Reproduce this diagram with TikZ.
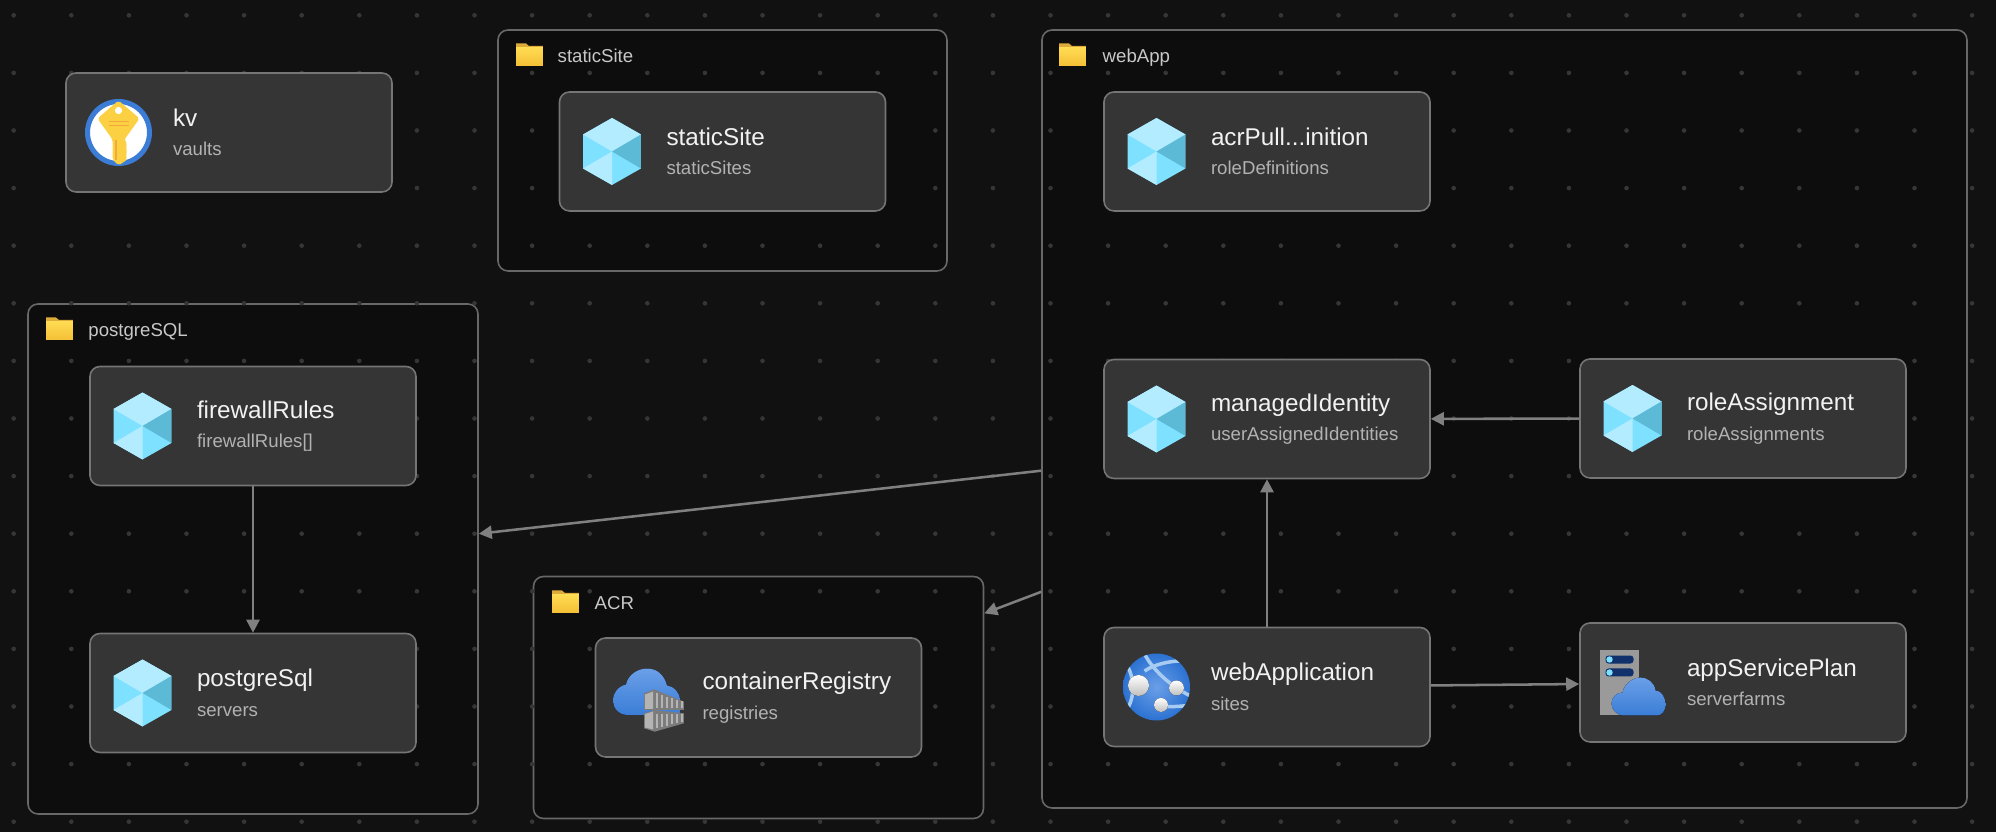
\documentclass[tikz,border=0pt]{standalone}
\usepackage{fontspec}
\setmainfont{Liberation Sans}
\usetikzlibrary{arrows.meta, shapes.geometric}

\definecolor{bgdark}{HTML}{111111}
\definecolor{groupdark}{HTML}{0D0D0D}
\definecolor{griddot}{HTML}{363636}
\definecolor{blockfill}{HTML}{353535}
\definecolor{edgegray}{HTML}{757575}
\definecolor{groupedge}{HTML}{686868}
\definecolor{linegray}{HTML}{808080}
\definecolor{subgray}{HTML}{B2B2B2}
\definecolor{groupgray}{HTML}{C8C8C8}
\definecolor{azlight}{HTML}{B3ECFF}
\definecolor{azmid}{HTML}{7DE1FF}
\definecolor{azdark}{HTML}{5DBAD6}
\definecolor{azblue}{HTML}{3B7DD6}
\definecolor{azdeep}{HTML}{2C72D2}
\definecolor{azsky}{HTML}{6A9FE8}
\definecolor{azarc}{HTML}{A8CBF2}
\definecolor{keygold}{HTML}{FBD043}
\definecolor{keyorange}{HTML}{F2A93B}
\definecolor{foldertop}{HTML}{FFDB52}
\definecolor{folderlow}{HTML}{F4BF35}
\definecolor{foldertab}{HTML}{DDAB3A}
\definecolor{rackgray}{HTML}{9A9A9A}
\definecolor{crategray}{HTML}{7C7C7C}
\definecolor{slatgray}{HTML}{B4B4B4}
\definecolor{slotnavy}{HTML}{10316B}

% title and type of a resource, set right of its icon
\newcommand{\restext}[2]{\hspace*{1.07cm}{\fontsize{6.9pt}{8.6pt}\selectfont\color{white!95!black}#1}\\[-3.6pt]\hspace*{1.07cm}{\fontsize{5.3pt}{8.6pt}\selectfont\color{subgray}#2}}

\tikzset{
    cubeicon/.pic={
        \begin{scope}[scale=0.01]
            \fill[azmid] (0,33.5) -- (29,17) -- (29,-17) -- (0,-33.5) -- (-29,-17) -- (-29,17) -- cycle;
            \fill[azlight] (0,33.5) -- (29,17) -- (0,0) -- (-29,17) -- cycle;
            \fill[azdark] (29,17) -- (0,0) -- (29,-17) -- cycle;
            \fill[azlight] (-29,-17) -- (0,0) -- (0,-33.5) -- cycle;
        \end{scope}
    },
    keyicon/.pic={
        \begin{scope}[scale=0.01]
            \fill[white] (0,0) circle (29);
            \draw[azblue, line width=0.05cm] (0,0) circle (31);
            \fill[keygold, rounded corners=0.02cm] (0,32) -- (21,14) -- (6,-7) -- (6,-8) -- (9,-11) -- (7,-15) -- (9,-19) -- (7,-23) -- (9,-27) -- (0,-33) -- (-6,-27) -- (-6,-7) -- (-21,14) -- cycle;
            \fill[white] (0,22) circle (3.6);
            \fill[keyorange] (-10,10) rectangle (10,11.5);
            \fill[keyorange] (-10,6) rectangle (10,7.5);
            \fill[keyorange] (-3.5,-8) rectangle (-2,-28);
        \end{scope}
    },
    webicon/.pic={
        \begin{scope}[scale=0.01]
            \shade[inner color=azsky, outer color=azdeep] (0,0) circle (33.5);
            \begin{scope}
                \clip (0,0) circle (33.5);
                \draw[azarc, line width=0.035cm] (-12,33) .. controls (-4,18) and (12,2) .. (34,-9);
                \draw[azarc, line width=0.035cm] (-12,16) .. controls (0,24) and (18,27) .. (34,26);
                \draw[azarc, line width=0.035cm] (-29,21) .. controls (-22,8) and (-22,-8) .. (-28,-20);
                \draw[azarc, line width=0.035cm] (0,-19) .. controls (10,-20) and (22,-20) .. (34,-18);
            \end{scope}
            \fill[top color=white, bottom color=white!75!black] (-18,1.5) circle (10.5);
            \fill[top color=white, bottom color=white!75!black] (20,-1) circle (7.5);
            \fill[top color=white, bottom color=white!75!black] (4.5,-18) circle (7);
        \end{scope}
    },
    registryicon/.pic={
        \begin{scope}[scale=0.01]
            \fill[top color=azsky, bottom color=azblue] (-20,-17.5) .. controls (-30,-17.5) and (-35,-10) .. (-35,-3) .. controls (-35,5) and (-30,11) .. (-22,13) .. controls (-20,23) and (-10,29) .. (-1,29) .. controls (9,29) and (16,23) .. (19,12) .. controls (26,11) and (31,6) .. (32,-2) -- (32,-18) -- cycle;
            \fill[crategray] (-4,4.2) -- (6,8.2) -- (36,-4.2) -- (36,-12.5) -- (-4,-12.5) -- cycle;
            \fill[crategray] (-4,-15.8) -- (6.7,-12.5) -- (36,-15.8) -- (36,-25.8) -- (6.7,-34.2) -- (-4,-30.8) -- cycle;
            \fill[slatgray] (-3,3) -- (5,6) -- (5,-11.5) -- (-3,-11.5) -- cycle;
            \fill[slatgray] (-3,-16.5) -- (5,-14) -- (5,-32) -- (-3,-30) -- cycle;
            \foreach \slatx/\slattop/\slatlow in {9/4/-31,14/2/-30,19/0/-28.5,24/-1/-27,29/-3/-26,34/-4/-25} {
                \draw[slatgray, line width=0.02cm] (\slatx,\slattop) -- (\slatx,-11);
                \draw[slatgray, line width=0.02cm] (\slatx,-16.5) -- (\slatx,\slatlow);
            }
        \end{scope}
    },
    planicon/.pic={
        \begin{scope}[scale=0.01]
            \fill[rackgray] (-33,33) rectangle (6,-33);
            \fill[slotnavy, rounded corners=0.03cm] (-27,27) rectangle (1,19);
            \fill[slotnavy, rounded corners=0.03cm] (-27,14) rectangle (1,6);
            \fill[azmid] (-23,23) circle (3.2);
            \fill[azmid] (-23,10) circle (3.2);
            \fill[top color=azsky, bottom color=azblue] (-8,-33) .. controls (-16,-33) and (-21,-27) .. (-21,-21) .. controls (-21,-15) and (-16,-10) .. (-10,-10) .. controls (-8,0) and (2,5) .. (8,5) .. controls (15,5) and (22,0) .. (23,-8) .. controls (29,-8) and (33,-15) .. (33,-22) .. controls (33,-29) and (29,-33) .. (24,-33) -- cycle;
        \end{scope}
    },
    foldericon/.pic={
        \begin{scope}[scale=0.01]
            \fill[foldertab] (0,0) -- (0,11.5) -- (10,11.5) -- (13,9) -- (27,9) -- (27,0) -- cycle;
            \fill[top color=foldertop, bottom color=folderlow] (0,-11) rectangle (27,7);
        \end{scope}
    }
}

\begin{document}
\begin{tikzpicture}[
        >={Triangle[length=0.13cm, width=0.13cm]},
        block/.style={rectangle, draw=edgegray, fill=blockfill, line width=0.45pt, rounded corners=0.1cm, minimum width=3.26cm, minimum height=1.19cm, text width=3.26cm, inner sep=0pt, align=left},
        group/.style={rectangle, draw=groupedge, line width=0.45pt, rounded corners=0.1cm, fill=groupdark, inner sep=0pt},
        grouplabel/.style={anchor=base west, inner sep=0pt, text=groupgray, font=\fontsize{5.3pt}{6pt}\selectfont},
        griddots/.style={griddot},
        line/.style={draw=linegray, ->, line width=0.72pt}
    ]

        \useasboundingbox (0,0) rectangle (19.96,-8.32);
        \fill[bgdark] (0,0) rectangle (19.96,-8.32);

        % ================= GROUPS =================
        \node[group, minimum width=4.50cm, minimum height=5.10cm] (postgreSQLgroup) at (2.53,-5.59) {};
        \node[group, minimum width=4.49cm, minimum height=2.41cm] (staticSitegroup) at (7.225,-1.505) {};
        \node[group, minimum width=9.25cm, minimum height=7.78cm] (webAppgroup) at (15.045,-4.19) {};
        \node[group, minimum width=4.50cm, minimum height=2.42cm] (ACRgroup) at (7.585,-6.975) {};

        % dots of the canvas run under the boxes
        \foreach \row in {0,...,14} {
            \foreach \col in {0,...,34} {
                \fill[griddots] ({0.137+0.576*\col},{-0.153-0.576*\row}) circle (0.023);
            }
        }

        \node[grouplabel] (postgreSQLname) at (0.877,-3.37) {postgreSQL};
        \node[grouplabel] (staticSitename) at (5.57,-0.63) {staticSite};
        \node[grouplabel] (webAppname) at (11.02,-0.63) {webApp};
        \node[grouplabel] (ACRname) at (5.94,-6.10) {ACR};

        \pic at (0.46,-3.29) {foldericon};
        \pic at (5.16,-0.55) {foldericon};
        \pic at (10.59,-0.55) {foldericon};
        \pic at (5.52,-6.02) {foldericon};

        % ================= RESOURCES =================
        \node[block] (kv) at (2.29,-1.325) {\restext{kv}{vaults}};
        \node[block] (staticSite) at (7.225,-1.515) {\restext{staticSite}{staticSites}};
        \node[block] (acrPull) at (12.67,-1.515) {\restext{acrPull...inition}{roleDefinitions}};
        \node[block] (managedIdentity) at (12.67,-4.19) {\restext{managedIdentity}{userAssignedIdentities}};
        \node[block] (roleAssignment) at (17.43,-4.185) {\restext{roleAssignment}{roleAssignments}};
        \node[block] (webApplication) at (12.67,-6.87) {\restext{webApplication}{sites}};
        \node[block] (appServicePlan) at (17.43,-6.825) {\restext{appServicePlan}{serverfarms}};
        \node[block] (firewallRules) at (2.53,-4.26) {\restext{firewallRules}{firewallRules[]}};
        \node[block] (postgreSql) at (2.53,-6.93) {\restext{postgreSql}{servers}};
        \node[block] (containerRegistry) at (7.585,-6.975) {\restext{containerRegistry}{registries}};

        \pic at ([xshift=0.533cm]kv.west) {keyicon};
        \pic at ([xshift=0.533cm]staticSite.west) {cubeicon};
        \pic at ([xshift=0.533cm]acrPull.west) {cubeicon};
        \pic at ([xshift=0.533cm]managedIdentity.west) {cubeicon};
        \pic at ([xshift=0.533cm]roleAssignment.west) {cubeicon};
        \pic at ([xshift=0.533cm]webApplication.west) {webicon};
        \pic at ([xshift=0.533cm]appServicePlan.west) {planicon};
        \pic at ([xshift=0.533cm]firewallRules.west) {cubeicon};
        \pic at ([xshift=0.533cm]postgreSql.west) {cubeicon};
        \pic at ([xshift=0.533cm]containerRegistry.west) {registryicon};

        % ================= DEPENDENCIES =================
        \path[line] (firewallRules) -- (postgreSql);
        \path[line] (webApplication) -- (managedIdentity);
        \path[line] (roleAssignment) -- (managedIdentity);
        \path[line] (webApplication) -- (appServicePlan);
        \path[line] (webAppgroup) -- (postgreSQLgroup);
        \path[line] (webAppgroup) -- (ACRgroup);

    \end{tikzpicture}
\end{document}
